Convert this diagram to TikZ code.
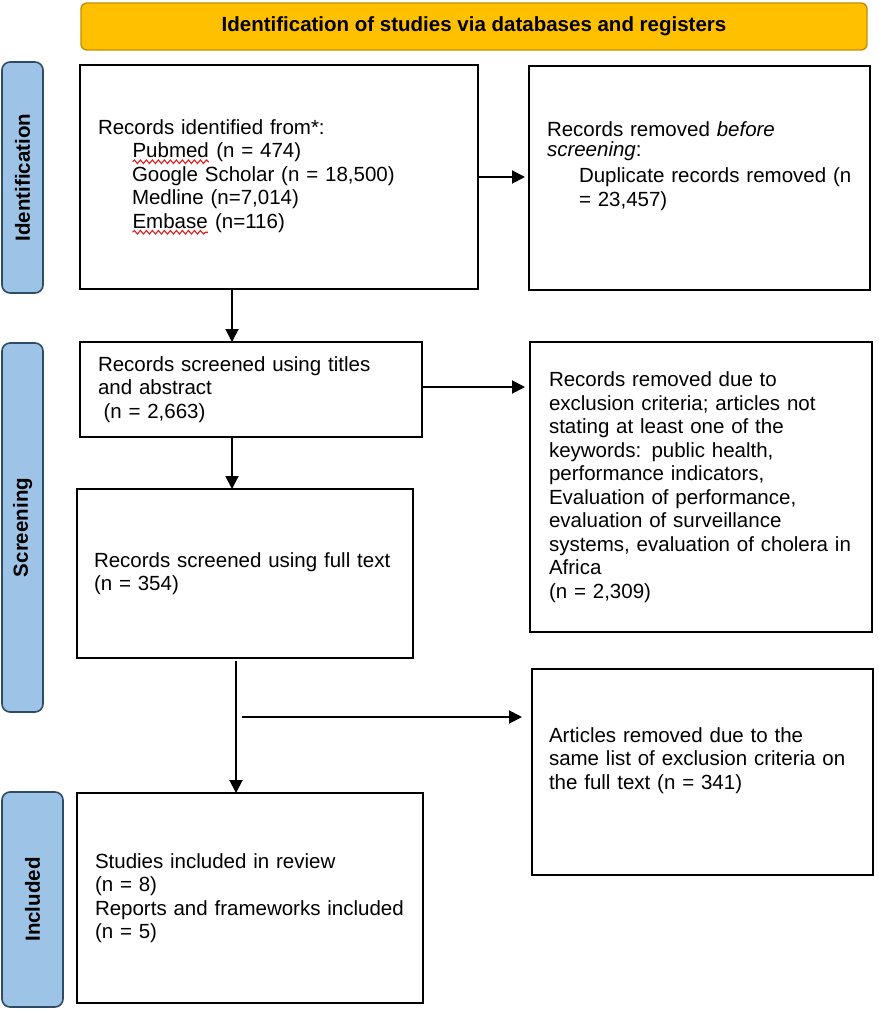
\documentclass[tikz,border=0pt]{standalone}
\usepackage{fontspec}
\setmainfont{Liberation Sans}
\usetikzlibrary{arrows.meta,calc,decorations.pathmorphing}
\definecolor{hdrfill}{HTML}{FFC000}
\definecolor{hdrdraw}{HTML}{BF9000}
\definecolor{tabfill}{HTML}{9DC3E6}
\definecolor{tabdraw}{HTML}{2F4B66}
\definecolor{spellred}{HTML}{E02020}
\newcommand\fsz{\fontsize{20.5pt}{23.5pt}\selectfont}
\newcommand\spellerr[1]{\tikz[baseline=(sw.base)]{\node[spl](sw){#1};\draw[spellred,line width=1.1pt,decorate,decoration={snake,amplitude=1.8pt,segment length=6pt}]([yshift=-4pt]sw.base west)--([yshift=-4pt]sw.base east);}}
\begin{document}
\begin{tikzpicture}[x=1pt,y=-1pt,
  spl/.style={inner sep=0pt,outer sep=0pt,text width=,minimum width=0pt,minimum height=0pt,draw=none,fill=none,font=,anchor=base,rotate=0},
  box/.style={draw=black,line width=1.9pt,rectangle,align=left,font=\fsz,anchor=north west,inner ysep=0pt,outer sep=0pt},
  tab/.style={draw=tabdraw,fill=tabfill,line width=1.6pt,rounded corners=8pt,font=\fsz\bfseries,inner sep=0pt,outer sep=0pt,rotate=90},
  hdr/.style={draw=hdrdraw,fill=hdrfill,line width=1.4pt,rounded corners=6pt,font=\fsz\bfseries,minimum width=786pt,minimum height=47pt,inner sep=0pt},
  arr/.style={line width=1.9pt,-{Triangle[length=13pt,width=13pt]}}]
\fill[white] (0,0) rectangle (878,1011);
\useasboundingbox (0,0) rectangle (878,1011);

% header
\node[hdr] (hd) at (474,26.5) {Identification of studies via databases and registers};

% side tabs
\node[tab,minimum width=231pt,minimum height=41pt] (t1) at (22.5,177.5) {Identification};
\node[tab,minimum width=369pt,minimum height=41pt] (t2) at (22.5,527.5) {Screening};
\node[tab,minimum width=215pt,minimum height=61pt] (t3) at (32.5,899.5) {Included};

% left column
\node[box,minimum height=224pt,text width=362pt,inner xsep=18pt] (b1) at (80,65)
 {Records identified from*:\\
  \hspace*{34pt}\spellerr{Pubmed} (n = 474)\\
  \hspace*{34pt}Google Scholar (n = 18,500)\\
  \hspace*{34pt}Medline (n=7,014)\\
  \hspace*{34pt}\spellerr{Embase} (n=116)};
\node[box,minimum height=95pt,text width=306pt,inner xsep=18pt] (b2) at (80,342)
 {Records screened using titles\\and abstract\\\hspace*{5.5pt}(n = 2,663)};
\node[box,minimum height=169pt,text width=302pt,inner xsep=17pt] (b3) at (77,489)
 {Records screened using full text\\(n = 354)};
\node[box,minimum height=210pt,text width=310pt,inner xsep=18pt] (b4) at (77,793)
 {Studies included in review\\(n = 8)\\Reports and frameworks included\\(n = 5)};

% right column
\node[box,minimum height=224pt,text width=305pt,inner xsep=18pt] (rb) at (529,66)
 {Records removed \textit{before}\\[-3pt]\textit{screening}:\\[2.5pt]
  \hspace*{32pt}Duplicate records removed (n\\[0.5pt]
  \hspace*{32pt}= 23,457)\\[4pt]\mbox{}};
\node[box,minimum height=290pt,text width=304pt,inner xsep=19pt] (ex) at (530,342)
 {Records removed due to\\exclusion criteria; articles not\\stating at least one of the\\keywords: public health,\\performance indicators,\\Evaluation of performance,\\evaluation of surveillance\\systems, evaluation of cholera in\\Africa\\(n = 2,309)};
\node[box,minimum height=206pt,text width=307pt,inner xsep=17pt] (ar) at (532,669)
 {Articles removed due to the\\same list of exclusion criteria on\\the full text (n = 341)\\[4pt]\mbox{}};

% connectors
\coordinate (c1) at ($(b1.south west)+(152,0)$);
\draw[arr] (c1) -- (c1 |- b2.north);
\draw[arr,shorten >=4pt] (b1.east) -- (b1.east -| rb.west);
\coordinate (c0) at ([yshift=2.5pt]b2.east);
\draw[arr,shorten >=5pt] (c0) -- (c0 -| ex.west);
\coordinate (c2) at ($(b2.south west)+(152,0)$);
\draw[arr] (c2) -- (c2 |- b3.north);
\coordinate (c3) at ($(b3.south west)+(159,0)$);
\draw[arr,shorten <=3pt] (c3) -- (c3 |- b4.north);
\coordinate (br) at ($(b3.south west)+(165,59)$);
\draw[arr,shorten >=10pt] (br) -- (br -| ar.west);
\end{tikzpicture}
\end{document}
